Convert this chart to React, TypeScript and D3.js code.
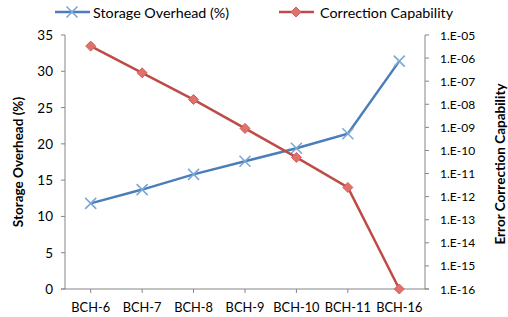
import * as d3 from "d3";

const categories = ["BCH-6", "BCH-7", "BCH-8", "BCH-9", "BCH-10", "BCH-11", "BCH-16"];
const overhead = [11.8, 13.7, 15.8, 17.6, 19.4, 21.4, 31.4];
const capability = [3.3e-6, 2.3e-7, 1.6e-8, 9e-10, 5e-11, 2.5e-12, 1e-16];
const leftTicks = [0, 5, 10, 15, 20, 25, 30, 35];
const rightExps = [-16, -15, -14, -13, -12, -11, -10, -9, -8, -7, -6, -5];

const W = 508;
const H = 317;
const MARGIN = { top: 35, right: 83, bottom: 28, left: 65 };
const BLUE = "#4a7ebb";
const RED = "#be4b48";
const AXIS = "#868686";
const FONT = "Lato, 'Open Sans', sans-serif";

export default function App() {
  const boundsW = W - MARGIN.left - MARGIN.right;
  const boundsH = H - MARGIN.top - MARGIN.bottom;

  const x = d3.scaleBand().domain(categories).range([0, boundsW]);
  const xc = (c: string) => (x(c) ?? 0) + x.bandwidth() / 2;
  const yL = d3.scaleLinear().domain([0, 35]).range([boundsH, 0]);
  const yR = d3.scaleLog().domain([1e-16, 1e-5]).range([boundsH, 0]);

  const blueLine = d3
    .line<number>()
    .x((_, i) => xc(categories[i]))
    .y((d) => yL(d))(overhead);
  const redLine = d3
    .line<number>()
    .x((_, i) => xc(categories[i]))
    .y((d) => yR(d))(capability);

  const cross = (cx: number, cy: number, k: string | number) => (
    <path
      key={k}
      d={`M${cx - 5.5},${cy - 5.5}L${cx + 5.5},${cy + 5.5}M${cx - 5.5},${cy + 5.5}L${cx + 5.5},${cy - 5.5}`}
      stroke="#7da7d9"
      strokeWidth={1.6}
      fill="none"
    />
  );
  const diamond = (cx: number, cy: number, k: string | number) => (
    <path
      key={k}
      d={`M${cx},${cy - 5}L${cx + 5},${cy}L${cx},${cy + 5}L${cx - 5},${cy}Z`}
      fill="#e0706c"
      stroke="#d45f5b"
      strokeWidth={1}
    />
  );

  return (
    <svg width={W} height={H} style={{ position: "absolute", left: 0, top: 0 }} fontFamily={FONT}>
      {/* legend */}
      <g fontSize={14.3} fill="#000">
        <line x1={55} x2={90} y1={12} y2={12} stroke={BLUE} strokeWidth={2.5} />
        {cross(72, 12, "lb")}
        <text x={93} y={12} dominantBaseline="central">Storage Overhead (%)</text>
        <line x1={279} x2={314} y1={12} y2={12} stroke={RED} strokeWidth={2.5} />
        {diamond(296, 12, "lr")}
        <text x={320} y={12} dominantBaseline="central">Correction Capability</text>
      </g>

      <g transform={`translate(${MARGIN.left},${MARGIN.top})`}>
        {/* axes */}
        <line x1={0} x2={0} y1={0} y2={boundsH} stroke={AXIS} />
        <line x1={boundsW} x2={boundsW} y1={0} y2={boundsH} stroke={AXIS} />
        <line x1={-4} x2={boundsW + 4} y1={boundsH} y2={boundsH} stroke={AXIS} />
        {leftTicks.map((t) => (
          <g key={t}>
            <line x1={-4} x2={0} y1={yL(t)} y2={yL(t)} stroke={AXIS} />
            <text x={-12} y={yL(t)} textAnchor="end" dominantBaseline="central" fontSize={13.5}>
              {t}
            </text>
          </g>
        ))}
        {rightExps.map((e) => (
          <g key={e}>
            <line x1={boundsW} x2={boundsW + 4} y1={yR(Math.pow(10, e))} y2={yR(Math.pow(10, e))} stroke={AXIS} />
            <text x={boundsW + 15} y={yR(Math.pow(10, e))} dominantBaseline="central" fontSize={12}>
              {`1.E${e < 0 ? "-" : "+"}${String(Math.abs(e)).padStart(2, "0")}`}
            </text>
          </g>
        ))}
        {categories.map((c) => (
          <g key={c}>
            <line x1={xc(c)} x2={xc(c)} y1={boundsH} y2={boundsH + 4} stroke={AXIS} />
            <text x={xc(c)} y={boundsH + 18} textAnchor="middle" dominantBaseline="central" fontSize={12.8}>
              {c}
            </text>
          </g>
        ))}

        {/* series */}
        <path d={blueLine ?? ""} fill="none" stroke={BLUE} strokeWidth={2.5} />
        {overhead.map((d, i) => cross(xc(categories[i]), yL(d), i))}
        <path d={redLine ?? ""} fill="none" stroke={RED} strokeWidth={2.5} />
        {capability.map((d, i) => diamond(xc(categories[i]), yR(d), i))}
      </g>

      {/* axis titles */}
      <text
        transform={`translate(18,${MARGIN.top + boundsH / 2}) rotate(-90)`}
        textAnchor="middle"
        dominantBaseline="central"
        fontWeight="bold"
        fontSize={13.5}
      >
        Storage Overhead (%)
      </text>
      <text
        transform={`translate(500,${MARGIN.top + boundsH / 2 + 2}) rotate(-90)`}
        textAnchor="middle"
        dominantBaseline="central"
        fontWeight="bold"
        fontSize={13.5}
      >
        Error Correction Capability
      </text>
    </svg>
  );
}
